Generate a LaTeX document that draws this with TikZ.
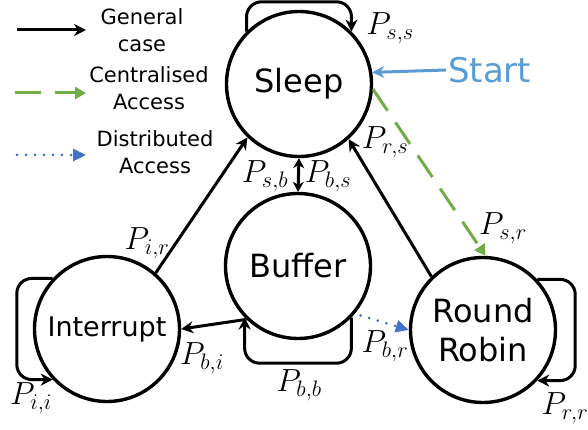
\RequirePackage{fix-cm}
\documentclass[tikz,border=0pt]{standalone}
\usepackage{fontspec}
\setmainfont{DejaVu Sans}
\usetikzlibrary{arrows.meta}

\definecolor{accgreen}{HTML}{70AD47}
\definecolor{accblue}{HTML}{4472C4}
\definecolor{startblue}{HTML}{5B9BD5}

\tikzset{
  state/.style={draw, circle, line width=3.4pt, minimum size=145pt, inner sep=0pt,
    align=center, font=\fontsize{32}{39}\selectfont},
  prob/.style={font=\fontsize{32}{36}\selectfont, inner sep=0pt},
  legtext/.style={align=center, font=\fontsize{21}{27}\selectfont},
  genarr/.style={line width=3pt, -{Stealth[length=12pt, width=12pt]}},
  cenarr/.style={accgreen, line width=3pt, dash pattern=on 26pt off 14pt,
    -{Triangle[length=11pt, width=12pt]}},
  disarr/.style={accblue, line width=3pt, dash pattern=on 0pt off 9pt, line cap=round,
    -{Triangle[length=13pt, width=12pt]}}
}

\begin{document}
\begin{tikzpicture}[x=1pt, y=-1pt]
    \useasboundingbox (0,0) rectangle (588,430);

    % Legend
    \node[legtext] (lgen) at (142,30) {General\\case};
    \node[legtext] (lcen) at (149,88) {Centralised\\Access};
    \node[legtext] (ldis) at (155,152) {Distributed\\Access};
    \coordinate (g0) at (17,30);  \coordinate (g1) at (86,30);
    \coordinate (c0) at (15,93);  \coordinate (c1) at (86,93);
    \coordinate (d0) at (17,155); \coordinate (d1) at (86,155);
    \draw[genarr] (g0) -- (g1);
    \draw[cenarr] (c0) -- (c1);
    \draw[disarr] (d0) -- (d1);

    % States
    \node[state] (sleep) at (299,84) {Sleep};
    \node[state] (buf) at (298,266) {Buffer};
    \node[state, font=\fontsize{27}{32}\selectfont] (int) at (107,329) {Interrupt};
    \node[state] (rr) at (483,330) {Round\\Robin};

    % Start
    \node[text=startblue, font=\fontsize{34}{40}\selectfont, anchor=west, inner sep=2pt]
      (start) at (446,70) {Start};
    \draw[startblue, line width=3pt, -{Stealth[length=12pt, width=12pt]}] (start.west) -- (sleep.9);

    % Self loops
    \draw[genarr, rounded corners=15pt] (sleep.135) |- ([yshift=8pt]sleep.north) -| (sleep.45);
    \draw[genarr, rounded corners=15pt] (int.137) -| ([xshift=-16pt]int.west) |- (int.223);
    \draw[genarr, rounded corners=15pt] (buf.-44) |- ([yshift=-23pt]buf.south) -| (buf.224);
    \draw[genarr, rounded corners=15pt] (rr.43) -| ([xshift=18pt]rr.east) |- (rr.-43);

    % Transitions
    \draw[genarr] (int.49) -- (sleep.226);
    \draw[genarr] (rr.134) -- (sleep.312);
    \draw[line width=3pt, {Stealth[length=10pt, width=11pt]}-{Stealth[length=10pt, width=11pt]}]
      (sleep.south) -- (buf.north);
    \draw[genarr] (buf.226) -- (int.0);
    \draw[cenarr] (sleep.-4) -- (rr.88);
    \draw[disarr, shorten <=6pt] (buf.-40) -- (rr.180);

    % Probabilities
    \node[prob] (pss) at (390,28) {$P_{s,s}$};
    \node[prob] (prs) at (385,142) {$P_{r,s}$};
    \node[prob] (psb) at (265,176) {$P_{s,b}$};
    \node[prob] (pbs) at (328,176) {$P_{b,s}$};
    \node[prob] (pir) at (147,243) {$P_{i,r}$};
    \node[prob] (psr) at (503,228) {$P_{s,r}$};
    \node[prob] (pbi) at (202,358) {$P_{b,i}$};
    \node[prob] (pbr) at (385,346) {$P_{b,r}$};
    \node[prob] (pbb) at (299,385) {$P_{b,b}$};
    \node[prob] (prr) at (565,408) {$P_{r,r}$};
    \node[prob] (pii) at (31,398) {$P_{i,i}$};
\end{tikzpicture}
\end{document}
